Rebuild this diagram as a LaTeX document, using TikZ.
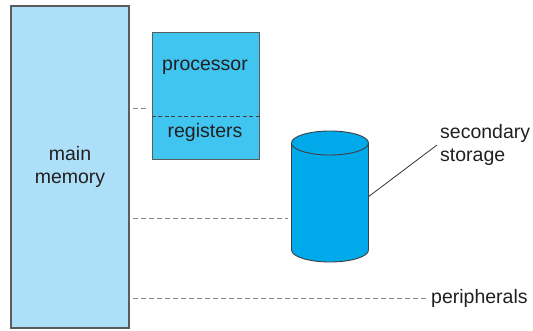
\documentclass[tikz,border=0pt]{standalone}
\usepackage{fontspec}
\setmainfont{Liberation Sans}
\usetikzlibrary{positioning,calc}
\definecolor{memblue}{HTML}{ADE0F8}
\definecolor{cpublue}{HTML}{40C5F1}
\definecolor{diskblue}{HTML}{00A9EA}
\definecolor{edgegray}{HTML}{5A5B5D}
\definecolor{busgray}{HTML}{8A8A8A}
\definecolor{inkgray}{HTML}{231F20}

\begin{document}
\begin{tikzpicture}[
  x=1pt, y=-1pt,
  font=\fontsize{19.5}{23.5}\selectfont, text=inkgray,
  memblk/.style={draw=edgegray, line width=1.1pt, fill=memblue,
                 minimum width=118pt, minimum height=322pt, align=center, inner sep=0pt},
  cpublk/.style={draw=edgegray, line width=1.1pt, fill=cpublue,
                 minimum width=107pt, minimum height=126.5pt, inner sep=0pt},
  diskbox/.style={minimum width=77pt, minimum height=131pt, inner sep=0pt},
  diskline/.style={draw=black!75, line width=0.9pt},
  lbl/.style={inner sep=3pt, align=left},
  bus/.style={draw=busgray, line width=1pt, dash pattern=on 5pt off 3pt},
  split/.style={draw=black!75, line width=0.8pt, dash pattern=on 4pt off 2.5pt}
]
\useasboundingbox (0,0) rectangle (533,330);

% ---- main memory and processor
\node[memblk] (mem) at (70,167) {main\\memory};
\node[cpublk] (cpu) at (205.8,96) {};
\node[anchor=base, inner sep=0pt] (cpuname) at (205,70) {processor};
\node[anchor=base, inner sep=0pt] (regs) at (205,137.5) {registers};
\draw[split] ([yshift=-20pt]cpu.west) -- ([yshift=-20pt]cpu.east);

% ---- secondary storage (disk drawn as a cylinder)
\node[diskbox] (disk) at (330,196.5) {};
\fill[diskblue] (291.5,143) -- (291.5,250)
  arc[start angle=180, end angle=0, x radius=38.5, y radius=12]
  -- (368.5,143)
  arc[start angle=0, end angle=-180, x radius=38.5, y radius=12] -- cycle;
\draw[diskline] (291.5,143) -- (291.5,250)
  arc[start angle=180, end angle=0, x radius=38.5, y radius=12] -- (368.5,143);
\draw[diskline] (330,143) ellipse[x radius=38.5, y radius=12];
\node[lbl, anchor=west] (store) at (437,145) {secondary\\storage};
\draw[black!80, line width=0.8pt] (disk.east) -- (store.west);

% ---- peripherals
\node[lbl, anchor=west] (periph) at (428,298) {peripherals};

% ---- bus lines from memory
\coordinate (b1) at (0,108);
\coordinate (b2) at (0,218);
\draw[bus, shorten <=3pt, shorten >=4pt] (mem.east |- b1) -- (cpu.west |- b1);
\draw[bus, shorten <=3pt, shorten >=3pt] (mem.east |- b2) -- (disk.west |- b2);
\draw[bus, shorten <=3pt] (mem.east |- periph.west) -- (periph.west);
\end{tikzpicture}
\end{document}
